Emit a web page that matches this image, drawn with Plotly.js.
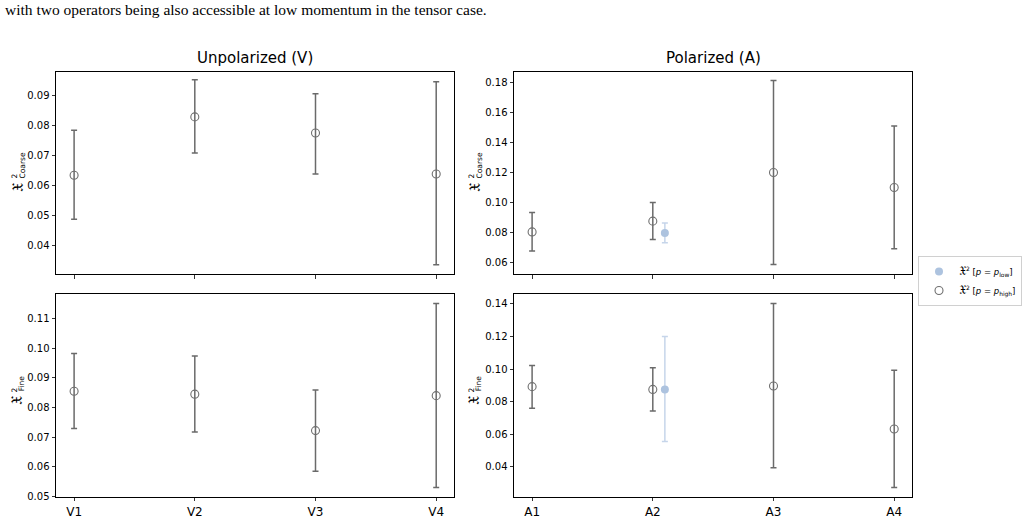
<!DOCTYPE html>
<html>
<head>
<meta charset="utf-8">
<script src="https://cdn.plot.ly/plotly-3.0.1.min.js"></script>
<style>html,body{margin:0;padding:0;background:#fff;}#chart{width:1025px;height:518px;}</style>
</head>
<body>
<div id="chart"></div>
<script>
// ---- data ----
const vCategories = ['V1', 'V2', 'V3', 'V4'];
const aCategories = ['A1', 'A2', 'A3', 'A4'];
const aLowCategories = ['A2'];

// Unpolarized, coarse (p = p_high)
const vCoarseHigh    = [0.0634, 0.0829, 0.0775, 0.0638];
const vCoarseHighTop = [0.0784, 0.0953, 0.0906, 0.0946];
const vCoarseHighBot = [0.0487, 0.0708, 0.0638, 0.0335];
// Polarized, coarse
const aCoarseHigh    = [0.0803, 0.0875, 0.1200, 0.1100];
const aCoarseHighTop = [0.0933, 0.1000, 0.1815, 0.1510];
const aCoarseHighBot = [0.0675, 0.0752, 0.0585, 0.0690];
const aCoarseLow     = [0.0795];
const aCoarseLowTop  = [0.0862];
const aCoarseLowBot  = [0.0730];
// Unpolarized, fine
const vFineHigh    = [0.0855, 0.0845, 0.0722, 0.0840];
const vFineHighTop = [0.0982, 0.0974, 0.0859, 0.1151];
const vFineHighBot = [0.0729, 0.0717, 0.0585, 0.0530];
// Polarized, fine
const aFineHigh    = [0.0892, 0.0875, 0.0896, 0.0632];
const aFineHighTop = [0.1022, 0.1008, 0.1402, 0.0992];
const aFineHighBot = [0.0759, 0.0742, 0.0394, 0.0273];
const aFineLow     = [0.0875];
const aFineLowTop  = [0.1200];
const aFineLowBot  = [0.0555];

// ---- helpers ----
const W = 1025, H = 518;
const px = x => x / W;
const py = y => 1 - y / H;
const LOW_OFFSET = 0.1;
const GRAY = '#6f6f6f';
const GRAY_ERR = '#6a6a6a';
const BLUE = '#adc3df';
const BLUE_ERR = '#c6d5ea';
const FRAK = '<span style="font-size:12px">𝔛</span>';
const legHigh = FRAK + '<sup>2</sup> [<i>p</i> = <i>p</i><sub>high</sub>]';
const legLow  = FRAK + '<sup>2</sup> [<i>p</i> = <i>p</i><sub>low</sub>]';

function highTrace(cats, allCats, vals, tops, bots, xa, ya, showleg) {
  return {
    type: 'scatter', mode: 'markers',
    x: cats.map(c => allCats.indexOf(c)), y: vals,
    xaxis: xa, yaxis: ya,
    name: legHigh, legendgroup: 'high', showlegend: showleg, legendrank: 2,
    marker: {symbol: 'circle-open', size: 8, color: GRAY, line: {width: 1.1, color: GRAY}},
    error_y: {type: 'data', symmetric: false,
      array: tops.map((t, i) => t - vals[i]),
      arrayminus: bots.map((b, i) => vals[i] - b),
      color: GRAY_ERR, thickness: 1.5, width: 3}
  };
}
function lowTrace(cats, allCats, vals, tops, bots, xa, ya, showleg) {
  return {
    type: 'scatter', mode: 'markers',
    x: cats.map(c => allCats.indexOf(c) + LOW_OFFSET), y: vals,
    xaxis: xa, yaxis: ya,
    name: legLow, legendgroup: 'low', showlegend: showleg, legendrank: 1,
    marker: {symbol: 'circle', size: 8, color: BLUE},
    error_y: {type: 'data', symmetric: false,
      array: tops.map((t, i) => t - vals[i]),
      arrayminus: bots.map((b, i) => vals[i] - b),
      color: BLUE_ERR, thickness: 1.5, width: 3}
  };
}

const traces = [
  highTrace(vCategories, vCategories, vCoarseHigh, vCoarseHighTop, vCoarseHighBot, 'x', 'y', false),
  highTrace(aCategories, aCategories, aCoarseHigh, aCoarseHighTop, aCoarseHighBot, 'x2', 'y2', true),
  lowTrace(aLowCategories, aCategories, aCoarseLow, aCoarseLowTop, aCoarseLowBot, 'x2', 'y2', true),
  highTrace(vCategories, vCategories, vFineHigh, vFineHighTop, vFineHighBot, 'x3', 'y3', false),
  highTrace(aCategories, aCategories, aFineHigh, aFineHighTop, aFineHighBot, 'x4', 'y4', false),
  lowTrace(aLowCategories, aCategories, aFineLow, aFineLowTop, aFineLowBot, 'x4', 'y4', false)
];

const tickFont = {family: 'DejaVu Sans', size: 10, color: '#000'};
function xax(domain, anchor, cats, labels) {
  return {domain: domain, anchor: anchor, range: [-0.15, 3.15],
    tickvals: cats.map((c, i) => i), ticktext: cats,
    showticklabels: labels, ticks: 'outside', ticklen: 3.5, tickwidth: 0.8, tickcolor: '#000',
    tickfont: {family: 'DejaVu Sans', size: 12, color: '#000'},
    showline: true, linecolor: '#000', linewidth: 1, mirror: true,
    showgrid: false, zeroline: false, fixedrange: true};
}
function yax(domain, anchor, range, dtick, tick0) {
  return {domain: domain, anchor: anchor, range: range, dtick: dtick, tick0: tick0,
    tickformat: '.2f', ticks: 'outside', ticklen: 3.5, tickwidth: 0.8, tickcolor: '#000',
    tickfont: tickFont,
    showline: true, linecolor: '#000', linewidth: 1, mirror: true,
    showgrid: false, zeroline: false, fixedrange: true};
}

const xL = [px(56), px(454.3)], xR = [px(514), px(912.3)];
const yT = [py(274), py(71.7)], yB = [py(496.7), py(294)];

function yLabel(fx, fy, sub, subLen) {
  const f = 'DejaVu Sans';
  return [
    {text: '𝔛', x: px(fx), y: py(fy), xref: 'paper', yref: 'paper', showarrow: false,
     textangle: -90, font: {family: f, size: 15, color: '#000'}, xanchor: 'center', yanchor: 'middle'},
    {text: '2', x: px(fx - 3.5), y: py(fy - 11), xref: 'paper', yref: 'paper', showarrow: false,
     textangle: -90, font: {family: f, size: 7.5, color: '#000'}, xanchor: 'center', yanchor: 'middle'},
    {text: sub, x: px(fx + 4.5), y: py(fy - 9.5 - subLen / 2), xref: 'paper', yref: 'paper', showarrow: false,
     textangle: -90, font: {family: f, size: 7.5, color: '#000'}, xanchor: 'center', yanchor: 'middle'}
  ];
}

const annotations = [
  {text: 'with two operators being also accessible at low momentum in the tensor case.',
   x: px(3), y: py(9.5), xref: 'paper', yref: 'paper', xanchor: 'left', yanchor: 'middle',
   showarrow: false, font: {family: 'Liberation Serif', size: 15.5, color: '#000'}},
  {text: 'Unpolarized (V)', x: (xL[0] + xL[1]) / 2, y: py(58), xref: 'paper', yref: 'paper',
   xanchor: 'center', yanchor: 'middle', showarrow: false, font: {family: 'DejaVu Sans', size: 15, color: '#000'}},
  {text: 'Polarized (A)', x: (xR[0] + xR[1]) / 2, y: py(58), xref: 'paper', yref: 'paper',
   xanchor: 'center', yanchor: 'middle', showarrow: false, font: {family: 'DejaVu Sans', size: 15, color: '#000'}},
  ...yLabel(17.5, 187.5, 'Coarse', 25),
  ...yLabel(474.5, 187.5, 'Coarse', 25),
  ...yLabel(17.0, 401, 'Fine', 15.5),
  ...yLabel(474.0, 401, 'Fine', 15.5)
];

const layout = {
  width: W, height: H,
  margin: {l: 0, r: 0, t: 0, b: 0},
  paper_bgcolor: '#fff', plot_bgcolor: '#fff',
  showlegend: true,
  legend: {x: px(918), y: py(256), xanchor: 'left', yanchor: 'top',
    bordercolor: '#d0d0d0', borderwidth: 1, bgcolor: '#fff',
    font: {family: 'DejaVu Sans', size: 8.5, color: '#000'},
    itemwidth: 30, tracegroupgap: 0, traceorder: 'normal'},
  xaxis: xax(xL, 'y', vCategories, false),
  yaxis: yax(yT, 'x', [0.0304, 0.098], 0.01, 0.04),
  xaxis2: xax(xR, 'y2', aCategories, false),
  yaxis2: yax(yT, 'x2', [0.0522, 0.1873], 0.02, 0.06),
  xaxis3: xax(xL, 'y3', vCategories, true),
  yaxis3: yax(yB, 'x3', [0.0499, 0.1183], 0.01, 0.05),
  xaxis4: xax(xR, 'y4', aCategories, true),
  yaxis4: yax(yB, 'x4', [0.0216, 0.1461], 0.02, 0.04),
  annotations: annotations
};

Plotly.newPlot('chart', traces, layout, {displayModeBar: false, staticPlot: true});
</script>
</body>
</html>
